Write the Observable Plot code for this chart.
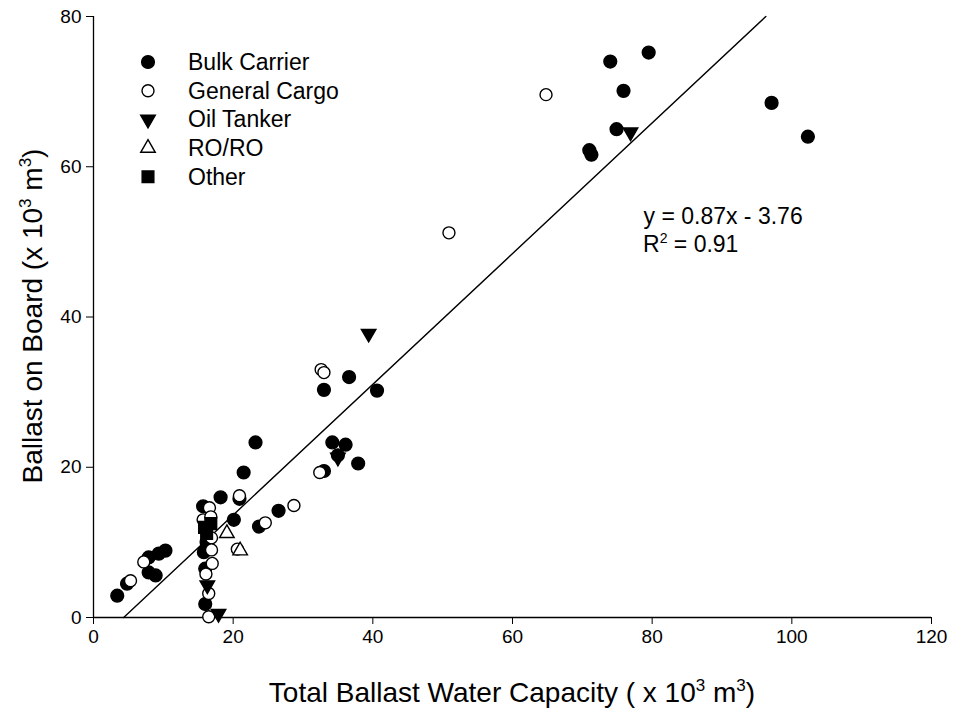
<!DOCTYPE html>
<html>
<head>
<meta charset="utf-8">
<script src="https://cdn.jsdelivr.net/npm/d3@7"></script>
<script src="https://cdn.jsdelivr.net/npm/@observablehq/plot@0.6"></script>
<style>
  html, body { margin: 0; padding: 0; background: #fff; }
  svg { display: block; }
</style>
</head>
<body>
<div id="chart"></div>
<script>
// Ballast on board vs. total ballast water capacity, both in thousands of m³.
const bulkCarrier = [
  [3.4, 2.9], [4.8, 4.5], [7.9, 6.0], [8.9, 5.6], [7.9, 8.0], [9.35, 8.5], [10.3, 8.9],
  [15.7, 14.8], [15.8, 8.7], [16.0, 6.5], [16.0, 1.8], [16.2, 10.0],
  [18.2, 16.0], [20.9, 15.8], [20.1, 13.0], [21.5, 19.3], [23.2, 23.3], [23.7, 12.1], [26.5, 14.2],
  [33.0, 19.5], [34.2, 23.3], [36.1, 23.0], [37.9, 20.5], [35.0, 21.6],
  [33.0, 30.3], [36.6, 32.0], [40.6, 30.2],
  [71.0, 62.2], [71.3, 61.6], [74.0, 74.0], [79.5, 75.2], [75.9, 70.1], [74.9, 65.0],
  [97.1, 68.5], [102.3, 64.0]
];
const generalCargo = [
  [5.3, 4.9], [7.2, 7.4],
  [16.6, 14.6], [15.7, 13.0], [16.8, 13.4], [16.9, 10.6], [16.9, 9.0], [17.0, 7.2],
  [16.1, 5.8], [16.5, 3.2], [16.5, 0.1],
  [20.9, 16.2], [20.6, 9.1], [24.6, 12.6], [28.7, 14.9],
  [32.4, 19.3], [32.6, 33.0], [33.0, 32.6], [50.9, 51.2], [64.8, 69.6]
];
const oilTanker = [[16.3, 4.3], [17.9, 0.5], [35.0, 21.3], [39.4, 37.8], [76.9, 64.6]];
const roRo = [[19.1, 11.2], [21.0, 8.9]];
const other = [[15.9, 12.0], [16.8, 12.5], [16.2, 11.2]];

// Linear fit: y = 0.87x - 3.76, R² = 0.91
const slope = 0.87;
const intercept = -3.76;
const rSquared = 0.91;

const xTicks = [0, 20, 40, 60, 80, 100, 120];
const yTicks = [0, 20, 40, 60, 80];

// Downward-pointing triangle (mirror of d3.symbolTriangle)
const sqrt3 = Math.sqrt(3);
const triangleDown = {
  draw(context, size) {
    const y = -Math.sqrt(size / (sqrt3 * 3));
    context.moveTo(0, -y * 2);
    context.lineTo(-sqrt3 * y, y);
    context.lineTo(sqrt3 * y, y);
    context.closePath();
  }
};

const series = [
  {name: "Bulk Carrier", data: bulkCarrier, symbol: d3.symbolCircle, fill: "black", r: 6.4},
  {name: "General Cargo", data: generalCargo, symbol: d3.symbolCircle, fill: "white", r: 6.0},
  {name: "Oil Tanker", data: oilTanker, symbol: triangleDown, fill: "black", r: 5.4},
  {name: "RO/RO", data: roRo, symbol: d3.symbolTriangle, fill: "white", r: 5.4},
  {name: "Other", data: other, symbol: d3.symbolSquare, fill: "black", r: 6.6}
];

const xFitStart = -intercept / slope;          // where the fit crosses y = 0
const xFitEnd = (80 - intercept) / slope;      // where the fit reaches y = 80
const fitLine = [xFitStart, xFitEnd].map(x => ({x, y: slope * x + intercept}));

const W = 953, H = 710;
const margin = {left: 93, right: 22, top: 16, bottom: 93};
const font = "'Liberation Sans', Arial, sans-serif";

const chart = Plot.plot({
  width: W,
  height: H,
  marginLeft: margin.left,
  marginRight: margin.right,
  marginTop: margin.top,
  marginBottom: margin.bottom,
  style: {fontFamily: font, fontSize: "19px", color: "black", background: "white"},
  x: {domain: [0, 120]},
  y: {domain: [0, 80]},
  marks: [
    Plot.axisX({ticks: xTicks, tickSize: 7, tickPadding: 5, label: null, fontSize: 19}),
    Plot.axisY({ticks: yTicks, tickSize: 7, tickPadding: 5, label: null, fontSize: 19}),
    Plot.ruleY([0], {stroke: "black", strokeWidth: 1.3}),
    Plot.ruleX([0], {stroke: "black", strokeWidth: 1.3}),
    Plot.line(fitLine, {x: "x", y: "y", stroke: "black", strokeWidth: 1.4}),
    ...series.map(s => Plot.dot(s.data, {
      x: d => d[0], y: d => d[1],
      symbol: s.symbol,
      fill: s.fill, stroke: "black", strokeWidth: 1.4, r: s.r
    })),
    Plot.text([`y = ${slope}x - ${Math.abs(intercept)}`], {
      frameAnchor: "top-left", dx: 550, dy: 200, textAnchor: "start", lineAnchor: "middle", fontSize: 23
    })
  ]
});

const svg = d3.select(chart);

// Legend in the upper-left of the plot area
const legend = svg.append("g").attr("transform", `translate(148, 62)`);
series.forEach((s, i) => {
  const g = legend.append("g").attr("transform", `translate(0, ${i * 28.7})`);
  g.append("path")
    .attr("d", d3.symbol(s.symbol, Math.PI * s.r * s.r)())
    .attr("fill", s.fill).attr("stroke", "black").attr("stroke-width", 1.4);
  g.append("text")
    .attr("x", 40).attr("y", 0).attr("dy", "0.35em")
    .attr("text-anchor", "start")
    .attr("font-size", 23).attr("fill", "black")
    .text(s.name);
});

// R² label with a raised exponent
const r2 = svg.append("text")
  .attr("x", 643).attr("y", 252)
  .attr("text-anchor", "start")
  .attr("font-size", 23).attr("fill", "black");
r2.append("tspan").text("R");
r2.append("tspan").attr("font-size", 14).attr("dy", -9).text("2");
r2.append("tspan").attr("dy", 9).text(` = ${rSquared}`);

// Axis titles with superscript exponents
function titleWithUnits(sel, prefix) {
  sel.append("tspan").text(prefix);
  sel.append("tspan").attr("font-size", 17).attr("dy", -11).text("3");
  sel.append("tspan").attr("dy", 11).text(" m");
  sel.append("tspan").attr("font-size", 17).attr("dy", -11).text("3");
  sel.append("tspan").attr("dy", 11).text(")");
}
const xTitle = svg.append("text")
  .attr("x", 512).attr("y", 702)
  .attr("text-anchor", "middle").attr("font-size", 28).attr("fill", "black");
titleWithUnits(xTitle, "Total Ballast Water Capacity ( x 10");

const yTitle = svg.append("text")
  .attr("transform", "translate(42, 316) rotate(-90)")
  .attr("text-anchor", "middle").attr("font-size", 28).attr("fill", "black");
titleWithUnits(yTitle, "Ballast on Board (x 10");

document.getElementById("chart").appendChild(chart);
</script>
</body>
</html>
